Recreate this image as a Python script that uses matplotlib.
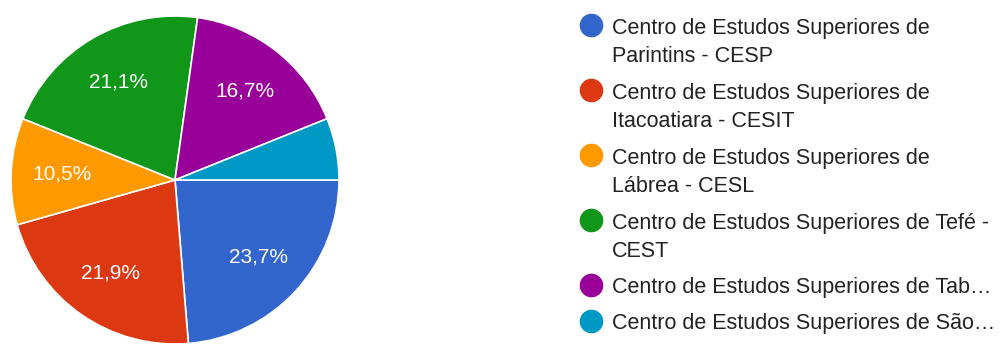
import matplotlib
matplotlib.use("Agg")
import matplotlib.pyplot as plt

# values (Google Forms style pie)
labels = [
    "Centro de Estudos Superiores de\nParintins - CESP",
    "Centro de Estudos Superiores de\nItacoatiara - CESIT",
    "Centro de Estudos Superiores de\nLábrea - CESL",
    "Centro de Estudos Superiores de Tefé -\nCEST",
    "Centro de Estudos Superiores de Tab…",
    "Centro de Estudos Superiores de São…",
]
shares = [23.7, 21.9, 10.5, 21.1, 16.7, 6.1]
colors = ["#3366CC", "#DC3912", "#FF9900", "#109618", "#990099", "#0099C6"]

plt.rcParams['font.family'] = ['Liberation Sans', 'DejaVu Sans']

W, H = 1002, 345
fig = plt.figure(figsize=(W / 100, H / 100), dpi=100)

# pie axes, centre (175,180) px, radius 164 px
cx, cy, r = 175, 180, 164
ax = fig.add_axes([(cx - r) / W, (H - cy - r) / H, 2 * r / W, 2 * r / H])


def pct(p):
    if p < 8:
        return ""
    return ("%.1f%%" % p).replace(".", ",")


wedges, texts, autotexts = ax.pie(
    shares, colors=colors, startangle=0, counterclock=False,
    autopct=pct, pctdistance=0.69,
    wedgeprops=dict(edgecolor="white", linewidth=1.2),
    textprops=dict(color="white", fontsize=15),
)
ax.set_xlim(-1, 1)
ax.set_ylim(-1, 1)
ax.set_aspect("equal")
ax.axis("off")

# legend drawn by hand to match the wrapped layout
ys = [25, 90, 155, 220, 285, 321]
line_h = 29
for lab, col, y in zip(labels, colors, ys):
    fig.add_artist(plt.Line2D([590.5 / W], [1 - y / H], marker="o", markersize=16,
                              color=col, linestyle="none", transform=fig.transFigure))
    # baseline of a multi-line text is the last line's
    nl = lab.count("\n")
    fig.text(612 / W, 1 - (y + 8 + line_h * nl) / H, lab, fontsize=15.5, color="#222222",
             va="baseline", ha="left", linespacing=1.45)

fig.savefig("out.png", dpi=100)
